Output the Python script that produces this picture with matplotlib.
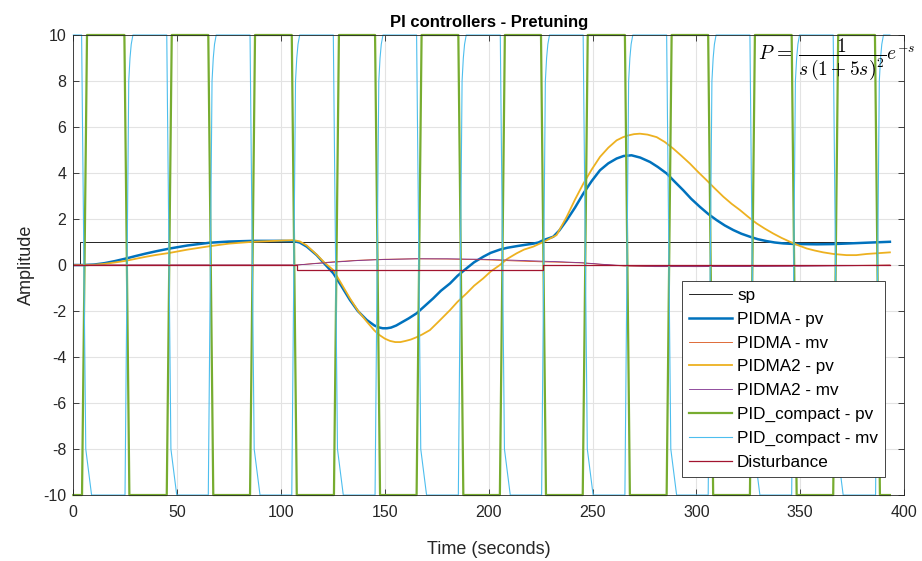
import numpy as np
import matplotlib
matplotlib.use("Agg")
import matplotlib.pyplot as plt

plt.rcParams['font.family'] = ['Liberation Sans', 'DejaVu Sans']
plt.rcParams['mathtext.fontset'] = 'cm'
plt.rcParams['axes.unicode_minus'] = False

t_end = 393.2

# setpoint and disturbance (step times / levels)
sp_t = [0, 3.3, 3.3, t_end]
sp_y = [0, 0, 1, 1]
dist_t = [0, 107.5, 107.5, 226.0, 226.0, t_end]
dist_y = [0, 0, -0.2, -0.2, 0, 0]

# PIDMA pv
pidma_pv_t = [0, 5, 10, 15, 20, 25.7, 30, 35, 40, 46.6, 55, 65.8, 75, 86.5, 100, 106, 109, 112.4,
              117.2, 121, 125.2, 129, 133.2, 137, 141.3, 145, 147, 149, 151, 153, 155.5, 158,
              161.5, 165.3, 169, 173.3, 177, 181.4, 185, 189.4, 193, 197.4, 201, 205.4, 209,
              213.5, 217, 221.5, 224, 226.3, 231.1, 234, 237.6, 241.6, 245.6, 249.6, 253.6,
              257.6, 261.6, 265, 268.8, 273, 277.7, 281.5, 285.7, 289.5, 293.7, 297.5, 301.7,
              305.7, 309.8, 313.7, 317.8, 321.7, 325.8, 329.7, 333.8, 337.7, 341.8, 345.8,
              349.9, 358, 365.9, 374, 382, 393.2]
pidma_pv = [0, 0, 0.02, 0.08, 0.17, 0.29, 0.39, 0.5, 0.6, 0.72, 0.85, 0.97, 1.02, 1.05, 1.05, 1.04, 0.98, 0.8,
            0.43, 0.05, -0.36, -0.9, -1.52, -2.0, -2.39, -2.63, -2.71, -2.75, -2.75, -2.72, -2.63, -2.5,
            -2.32, -2.1, -1.8, -1.45, -1.12, -0.8, -0.47, -0.14, 0.12, 0.36, 0.53, 0.67, 0.75,
            0.82, 0.87, 0.93, 0.98, 1.08, 1.23, 1.5, 1.95, 2.5, 3.11, 3.65, 4.12,
            4.42, 4.63, 4.74, 4.77, 4.67, 4.48, 4.26, 3.98, 3.63, 3.25, 2.88, 2.53,
            2.22, 1.95, 1.72, 1.52, 1.36, 1.23, 1.12, 1.04, 0.98, 0.94, 0.92,
            0.91, 0.9, 0.91, 0.94, 0.97, 1.01]

# PIDMA2 pv
pidma2_pv_t = [0, 10, 15, 20, 25.7, 30, 35, 40, 46.6, 55, 65.8, 75, 86.5, 100, 106, 109, 112.4, 117.2,
               121, 125.2, 129, 133.2, 137, 141.3, 145, 147.5, 150, 152.5, 155, 157.5, 160, 162.5,
               165, 168, 171.7, 176, 181.4, 185, 189.4, 193, 197.4, 201, 205.4, 209, 213.5, 217,
               221.5, 226.3, 232.7, 237.6, 241.6, 245.6, 249.6, 253.6, 257.6, 261.6, 264.5, 267,
               270, 272.8, 276.5, 280.9, 284.8, 288.9, 292.8, 296.9, 300.8, 304.9, 309, 313, 317,
               321, 325, 329, 333, 337, 341, 345.1, 349, 353.1, 357, 361.1, 366, 372.3, 377, 382,
               393.2]
pidma2_pv = [0, 0.01, 0.05, 0.11, 0.19, 0.27, 0.36, 0.44, 0.53, 0.67, 0.82, 0.93, 1.01, 1.06, 1.08, 1.03, 0.85, 0.45,
             0.1, -0.22, -0.8, -1.45, -1.98, -2.46, -2.85, -3.05, -3.2, -3.3, -3.35, -3.35, -3.3, -3.24,
             -3.15, -3.02, -2.83, -2.45, -1.96, -1.6, -1.23, -0.9, -0.58, -0.28, 0.0, 0.27, 0.51, 0.67,
             0.8, 1.0, 1.3, 2.1, 2.85, 3.54, 4.15, 4.7, 5.1, 5.42, 5.55, 5.63,
             5.69, 5.71, 5.67, 5.56, 5.35, 5.06, 4.75, 4.41, 4.05, 3.69, 3.32, 2.97, 2.66,
             2.39, 2.09, 1.81, 1.58, 1.37, 1.18, 1.01, 0.86, 0.72, 0.63, 0.55, 0.48, 0.43, 0.43, 0.48,
             0.55]

# controller outputs of the two PIDMA variants
mv_t = [0, 107.5, 115, 125, 138, 150, 165, 180, 197, 212, 225, 235, 245, 255, 265, 280, 300, 325, 350, 375, t_end]
pidma_mv = [0, 0, 0.06, 0.14, 0.21, 0.25, 0.27, 0.26, 0.23, 0.18, 0.14, 0.12, 0.09, 0.02, -0.04, -0.07, -0.07, -0.06, -0.04, -0.02, 0]
pidma2_mv = [0, 0, 0.05, 0.12, 0.2, 0.24, 0.27, 0.27, 0.25, 0.21, 0.17, 0.14, 0.1, 0.03, -0.03, -0.06, -0.07, -0.06, -0.05, -0.03, -0.01]

# PID_compact relay test: switching times (clipped at the axis limits)
pc_pv_rise = [4.2, 45.0, 85.1, 125.5, 165.3, 205.4, 245.3, 285.7, 325.8, 365.9]
pc_pv_fall = [24.6, 65.0, 105.2, 145.3, 185.4, 225.2, 265.6, 305.7, 345.9, 386.0]
pc_mv_fall = [4.0, 45.0, 85.1, 125.2, 165.3, 205.6, 245.5, 285.7, 325.8, 365.9]
pc_mv_rise = [24.9, 65.0, 105.2, 145.3, 185.4, 225.5, 265.6, 305.7, 345.9, 386.3]
lim_hi, lim_lo = 10, -10

# edge shapes (time offset, value)
pv_edge = [(0, -1), (2.4, 1)]
mv_fall_edge = [(0, 10), (2.0, -8), (4.8, -10)]
mv_rise_edge = [(0, -10), (1.8, 8.0), (2.4, 9.0), (3.0, 9.6), (3.8, 10)]


def relay_pv():
    ev = sorted([(r, 1) for r in pc_pv_rise] + [(f, -1) for f in pc_pv_fall])
    t, y = [0], [lim_lo]
    for s, d in ev:
        for dt, v in pv_edge:
            t.append(s + dt)
            y.append(lim_hi * v * d)
    t.append(t_end)
    y.append(y[-1])
    return t, y


def relay_mv():
    ev = sorted([(r, mv_rise_edge) for r in pc_mv_rise] + [(f, mv_fall_edge) for f in pc_mv_fall],
                key=lambda e: e[0])
    t, y = [0], [lim_hi]
    for s, shape in ev:
        for dt, v in shape:
            t.append(s + dt)
            y.append(v)
    t.append(t_end)
    y.append(y[-1])
    return t, y


fig = plt.figure(figsize=(9.22, 5.61), dpi=100)
ax = fig.add_axes([0.0795, 0.1176, 0.901, 0.82])

pv_t, pv_y = relay_pv()
m_t, m_y = relay_mv()

ax.plot(sp_t, sp_y, color='k', lw=0.6, label='sp')
ax.plot(pidma_pv_t, pidma_pv, color='#0072BD', lw=1.8, label='PIDMA - pv')
ax.plot(mv_t, pidma_mv, color='#D95319', lw=0.6, label='PIDMA - mv')
ax.plot(pidma2_pv_t, pidma2_pv, color='#EDB120', lw=1.3, label='PIDMA2 - pv')
ax.plot(mv_t, pidma2_mv, color='#7E2F8E', lw=0.6, label='PIDMA2 - mv')
ax.plot(pv_t, pv_y, color='#77AC30', lw=1.6, label='PID_compact - pv', clip_on=False)
ax.plot(m_t, m_y, color='#4DBEEE', lw=0.8, label='PID_compact - mv', clip_on=False)
ax.plot(dist_t, dist_y, color='#A2142F', lw=0.9, label='Disturbance')

ax.set_xlim(0, 400)
ax.set_ylim(-10, 10)
ax.set_xticks(np.arange(0, 401, 50))
ax.set_yticks(np.arange(-10, 11, 2))
ax.grid(True, color='#E3E3E3', lw=0.8)
ax.set_axisbelow(True)
ax.tick_params(direction='in', length=4, width=0.6, labelsize=11.5, colors='#262626',
               top=True, right=True)
ax.tick_params(axis='x', pad=7)
ax.tick_params(axis='y', pad=5)
for s in ax.spines.values():
    s.set_color('#262626')
    s.set_linewidth(0.6)

ax.set_xlabel('Time (seconds)', fontsize=13, color='#262626', labelpad=15)
ax.set_ylabel('Amplitude', fontsize=13, color='#262626', labelpad=6)
ax.set_title('PI controllers - Pretuning', fontsize=12, fontweight='bold', pad=6)

ax.text(1.014, 0.996, r'$P\,=\,\dfrac{1}{s\,(1+5s)^2}e^{-s}$', transform=ax.transAxes,
        ha='right', va='top', fontsize=14, clip_on=False)

leg = ax.legend(loc='lower right', bbox_to_anchor=(0.977, 0.039), borderaxespad=0,
                fontsize=12.3, handlelength=2.5, handletextpad=0.3, labelspacing=0.52,
                fancybox=False, framealpha=1, edgecolor='#262626', borderpad=0.4)
leg.get_frame().set_linewidth(0.6)

fig.savefig('out.png', dpi=100)
